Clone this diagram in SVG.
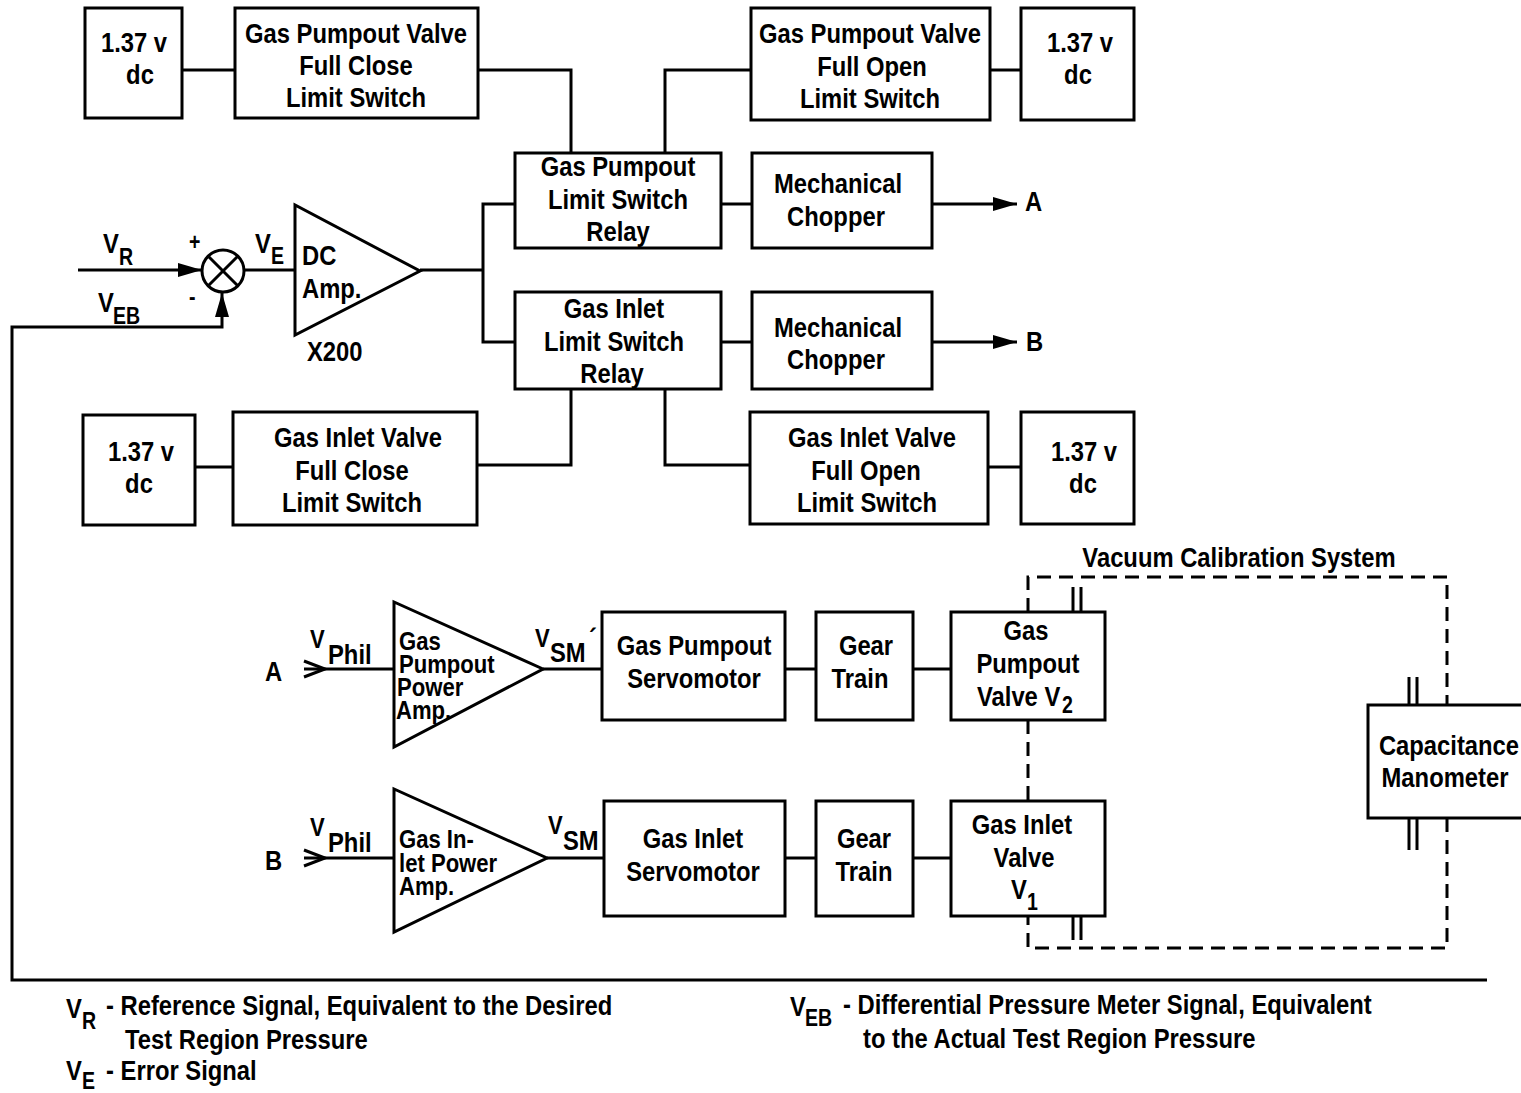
<svg xmlns="http://www.w3.org/2000/svg" width="1521" height="1093" viewBox="0 0 1521 1093">
<style>
.b{fill:#fff;stroke:#000;stroke-width:3}
.l{fill:none;stroke:#000;stroke-width:3}
.d{fill:none;stroke:#000;stroke-width:3;stroke-dasharray:14 8}
text{font-family:"Liberation Sans",Arial,sans-serif;font-weight:bold;font-size:28px;fill:#000}
.c{text-anchor:middle}
.s{font-size:23px}
.a{font-size:26px}
</style>
<defs>
<marker id="ah" viewBox="0 0 24 14" refX="24" refY="7" markerWidth="24" markerHeight="14" markerUnits="userSpaceOnUse" orient="auto"><path d="M0,0 L24,7 L0,14 Z" fill="#000"/></marker>
</defs>
<rect width="1521" height="1093" fill="#fff"/>

<g id="connectors">
<line class="l" x1="182" y1="70" x2="235" y2="70"/>
<polyline class="l" points="478,70 571,70 571,153"/>
<polyline class="l" points="751,70 665,70 665,153"/>
<line class="l" x1="990" y1="70" x2="1021" y2="70"/>
<line class="l" x1="721" y1="204" x2="752" y2="204"/>
<line class="l" x1="932" y1="204" x2="1017" y2="204" marker-end="url(#ah)"/>
<line class="l" x1="721" y1="342" x2="752" y2="342"/>
<line class="l" x1="932" y1="342" x2="1017" y2="342" marker-end="url(#ah)"/>
<line class="l" x1="420" y1="270" x2="483" y2="270"/>
<polyline class="l" points="515,204 483,204 483,342 515,342"/>
<polyline class="l" points="571,389 571,465 477,465"/>
<polyline class="l" points="665,389 665,465 750,465"/>
<line class="l" x1="195" y1="467" x2="233" y2="467"/>
<line class="l" x1="988" y1="467" x2="1021" y2="467"/>
<line class="l" x1="78" y1="270" x2="202" y2="270" marker-end="url(#ah)"/>
<polyline class="l" points="1487,980 12,980 12,327 222,327 222,293" marker-end="url(#ah)"/>
<line class="l" x1="245" y1="270" x2="295" y2="270"/>
<line class="l" x1="304" y1="669" x2="394" y2="669"/>
<path class="l" d="M304,661 L325,669 L304,677"/>
<line class="l" x1="543" y1="669" x2="602" y2="669"/>
<line class="l" x1="785" y1="669" x2="816" y2="669"/>
<line class="l" x1="913" y1="669" x2="951" y2="669"/>
<line class="l" x1="304" y1="858" x2="394" y2="858"/>
<path class="l" d="M304,850 L325,858 L304,866"/>
<line class="l" x1="547" y1="858" x2="604" y2="858"/>
<line class="l" x1="785" y1="858" x2="816" y2="858"/>
<line class="l" x1="913" y1="858" x2="951" y2="858"/>
<polyline class="d" points="1028,612 1028,577 1447,577 1447,705"/>
<polyline class="d" points="1447,818 1447,948 1028,948 1028,916"/>
<line class="d" x1="1028" y1="720" x2="1028" y2="801"/>
<g class="l">
<line x1="1073" y1="587" x2="1073" y2="612"/><line x1="1081" y1="587" x2="1081" y2="612"/>
<line x1="1409" y1="677" x2="1409" y2="705"/><line x1="1417" y1="677" x2="1417" y2="705"/>
<line x1="1409" y1="818" x2="1409" y2="850"/><line x1="1417" y1="818" x2="1417" y2="850"/>
<line x1="1073" y1="916" x2="1073" y2="940"/><line x1="1081" y1="916" x2="1081" y2="940"/>
</g>
</g>

<g id="dc1"><rect class="b" x="85" y="8" width="97" height="110"/><text class="c" transform="translate(134 52) scale(.85 1)">1.37 v</text><text class="c" transform="translate(140 84) scale(.85 1)">dc</text></g>
<g id="pumpout-close"><rect class="b" x="235" y="8" width="243" height="110"/><text class="c" transform="translate(356 43) scale(.85 1)">Gas Pumpout Valve</text><text class="c" transform="translate(356 75) scale(.85 1)">Full Close</text><text class="c" transform="translate(356 107) scale(.85 1)">Limit Switch</text></g>
<g id="pumpout-open"><rect class="b" x="751" y="8" width="239" height="112"/><text class="c" transform="translate(870 43) scale(.85 1)">Gas Pumpout Valve</text><text class="c" transform="translate(872 76) scale(.85 1)">Full Open</text><text class="c" transform="translate(870 108) scale(.85 1)">Limit Switch</text></g>
<g id="dc2"><rect class="b" x="1021" y="8" width="113" height="112"/><text class="c" transform="translate(1080 52) scale(.85 1)">1.37 v</text><text class="c" transform="translate(1078 84) scale(.85 1)">dc</text></g>
<g id="pumpout-relay"><rect class="b" x="515" y="153" width="206" height="95"/><text class="c" transform="translate(618 176) scale(.85 1)">Gas Pumpout</text><text class="c" transform="translate(618 209) scale(.85 1)">Limit Switch</text><text class="c" transform="translate(618 241) scale(.85 1)">Relay</text></g>
<g id="chopper1"><rect class="b" x="752" y="153" width="180" height="95"/><text class="c" transform="translate(838 193) scale(.85 1)">Mechanical</text><text class="c" transform="translate(836 226) scale(.85 1)">Chopper</text></g>
<g id="outA"><text transform="translate(1025 211) scale(.85 1)">A</text></g>
<g id="inlet-relay"><rect class="b" x="515" y="292" width="206" height="97"/><text class="c" transform="translate(614 318) scale(.85 1)">Gas Inlet</text><text class="c" transform="translate(614 351) scale(.85 1)">Limit Switch</text><text class="c" transform="translate(612 383) scale(.85 1)">Relay</text></g>
<g id="chopper2"><rect class="b" x="752" y="292" width="180" height="97"/><text class="c" transform="translate(838 337) scale(.85 1)">Mechanical</text><text class="c" transform="translate(836 369) scale(.85 1)">Chopper</text></g>
<g id="outB"><text transform="translate(1026 351) scale(.85 1)">B</text></g>
<g id="dc3"><rect class="b" x="83" y="415" width="112" height="110"/><text class="c" transform="translate(141 461) scale(.85 1)">1.37 v</text><text class="c" transform="translate(139 493) scale(.85 1)">dc</text></g>
<g id="inlet-close"><rect class="b" x="233" y="412" width="244" height="113"/><text class="c" transform="translate(358 447) scale(.85 1)">Gas Inlet Valve</text><text class="c" transform="translate(352 480) scale(.85 1)">Full Close</text><text class="c" transform="translate(352 512) scale(.85 1)">Limit Switch</text></g>
<g id="inlet-open"><rect class="b" x="750" y="412" width="238" height="112"/><text class="c" transform="translate(872 447) scale(.85 1)">Gas Inlet Valve</text><text class="c" transform="translate(866 480) scale(.85 1)">Full Open</text><text class="c" transform="translate(867 512) scale(.85 1)">Limit Switch</text></g>
<g id="dc4"><rect class="b" x="1021" y="412" width="113" height="112"/><text class="c" transform="translate(1084 461) scale(.85 1)">1.37 v</text><text class="c" transform="translate(1083 493) scale(.85 1)">dc</text></g>

<g id="sum"><circle class="b" cx="223" cy="271" r="21"/><line class="l" x1="208" y1="256" x2="238" y2="286"/><line class="l" x1="238" y1="256" x2="208" y2="286"/>
<text class="s" transform="translate(189 250) scale(.85 1)">+</text><text class="s" transform="translate(189 305) scale(.85 1)">-</text>
<text transform="translate(103 253) scale(.85 1)">V</text><text class="s" transform="translate(119 265) scale(.85 1)">R</text>
<text transform="translate(98 312) scale(.85 1)">V</text><text class="s" transform="translate(113 324) scale(.85 1)">EB</text>
<text transform="translate(255 253) scale(.85 1)">V</text><text class="s" transform="translate(271 264) scale(.85 1)">E</text></g>
<g id="dcamp"><polygon class="b" points="295,205 295,335 420,271"/><text transform="translate(302 265) scale(.85 1)">DC</text><text transform="translate(302 298) scale(.85 1)">Amp.</text><text transform="translate(307 361) scale(.85 1)">X200</text></g>

<g id="inA"><text transform="translate(265 681) scale(.85 1)">A</text><text class="a" transform="translate(310 648) scale(.85 1)">V</text><text transform="translate(328 664) scale(.85 1)">Phil</text></g>
<g id="pamp1"><polygon class="b" points="394,602 394,747 543,669"/><text class="a" transform="translate(399 650) scale(.85 1)">Gas</text><text class="a" transform="translate(399 673) scale(.85 1)">Pumpout</text><text class="a" transform="translate(397 696) scale(.85 1)">Power</text><text class="a" transform="translate(396 719) scale(.85 1)">Amp.</text>
<text class="a" transform="translate(535 647) scale(.85 1)">V</text><text transform="translate(550 662) scale(.85 1)">SM</text><text transform="translate(589 648) scale(.85 1)">´</text></g>
<g id="servo1"><rect class="b" x="602" y="612" width="183" height="108"/><text class="c" transform="translate(694 655) scale(.85 1)">Gas Pumpout</text><text class="c" transform="translate(694 688) scale(.85 1)">Servomotor</text></g>
<g id="gear1"><rect class="b" x="816" y="612" width="97" height="108"/><text class="c" transform="translate(866 655) scale(.85 1)">Gear</text><text class="c" transform="translate(860 688) scale(.85 1)">Train</text></g>
<g id="valve2"><rect class="b" x="951" y="612" width="154" height="108"/><text class="c" transform="translate(1026 640) scale(.85 1)">Gas</text><text class="c" transform="translate(1028 673) scale(.85 1)">Pumpout</text><text transform="translate(977 706) scale(.85 1)">Valve V</text><text class="s" transform="translate(1062 713) scale(.85 1)">2</text></g>

<g id="inB"><text transform="translate(265 870) scale(.85 1)">B</text><text class="a" transform="translate(310 836) scale(.85 1)">V</text><text transform="translate(328 852) scale(.85 1)">Phil</text></g>
<g id="pamp2"><polygon class="b" points="394,789 394,932 547,858"/><text class="a" transform="translate(399 848) scale(.85 1)">Gas In-</text><text class="a" transform="translate(399 872) scale(.85 1)">let Power</text><text class="a" transform="translate(399 895) scale(.85 1)">Amp.</text>
<text class="a" transform="translate(548 834) scale(.85 1)">V</text><text transform="translate(563 850) scale(.85 1)">SM</text></g>
<g id="servo2"><rect class="b" x="604" y="801" width="181" height="115"/><text class="c" transform="translate(693 848) scale(.85 1)">Gas Inlet</text><text class="c" transform="translate(693 881) scale(.85 1)">Servomotor</text></g>
<g id="gear2"><rect class="b" x="816" y="801" width="97" height="115"/><text class="c" transform="translate(864 848) scale(.85 1)">Gear</text><text class="c" transform="translate(864 881) scale(.85 1)">Train</text></g>
<g id="valve1"><rect class="b" x="951" y="801" width="154" height="115"/><text class="c" transform="translate(1022 834) scale(.85 1)">Gas Inlet</text><text class="c" transform="translate(1024 867) scale(.85 1)">Valve</text><text transform="translate(1011 899) scale(.85 1)">V</text><text class="s" transform="translate(1027 910) scale(.85 1)">1</text></g>

<g id="vacuum"><text class="c" transform="translate(1239 567) scale(.85 1)">Vacuum Calibration System</text></g>
<g id="manometer"><rect class="b" x="1368" y="705" width="160" height="113"/><text class="c" transform="translate(1449 755) scale(.85 1)">Capacitance</text><text class="c" transform="translate(1445 787) scale(.85 1)">Manometer</text></g>

<g id="legend">
<text transform="translate(66 1018) scale(.85 1)">V</text><text class="s" transform="translate(82 1029) scale(.85 1)">R</text><text transform="translate(106 1015) scale(.85 1)">- Reference Signal,  Equivalent to the Desired</text>
<text transform="translate(125 1049) scale(.85 1)">Test Region  Pressure</text>
<text transform="translate(66 1080) scale(.85 1)">V</text><text class="s" transform="translate(82 1089) scale(.85 1)">E</text><text transform="translate(106 1080) scale(.85 1)">- Error Signal</text>
<text transform="translate(790 1016) scale(.85 1)">V</text><text class="s" transform="translate(805 1026) scale(.85 1)">EB</text><text transform="translate(843 1014) scale(.85 1)">- Differential  Pressure Meter Signal,  Equivalent</text>
<text transform="translate(863 1048) scale(.85 1)">to the Actual Test Region  Pressure</text>
</g>
</svg>
